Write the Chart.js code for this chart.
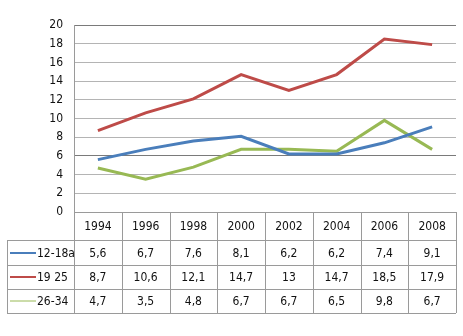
<!DOCTYPE html>
<html>
<head>
<meta charset="utf-8">
<script src="https://cdn.jsdelivr.net/npm/chart.js@4/dist/chart.umd.min.js"></script>
<style>
  html, body { margin: 0; padding: 0; background: #fff; }
  #wrap { width: 463px; height: 336px; position: relative; }
</style>
</head>
<body>
<div id="wrap"><canvas id="ageChart"></canvas></div>
<script>
// Survey years and the three age groups
const years = ['1994', '1996', '1998', '2000', '2002', '2004', '2006', '2008'];
const groupNames = ['12-18a', '19 25', '26-34'];
const group1218 = [5.6, 6.7, 7.6, 8.1, 6.2, 6.2, 7.4, 9.1];
const group1925 = [8.7, 10.6, 12.1, 14.7, 13, 14.7, 18.5, 17.9];
const group2634 = [4.7, 3.5, 4.8, 6.7, 6.7, 6.5, 9.8, 6.7];

const colors = ['#4a7ebb', '#be4b48', '#98b954'];
const legendWidths = [2, 2, 1];
const FONT = '"Liberation Sans Narrow", "DejaVu Sans Condensed", sans-serif';

const fmt = v => String(v).replace('.', ',');

// data table drawn under the plot, aligned to the category columns
const dataTable = {
    id: 'dataTable',
    afterDraw(chart) {
        const ctx = chart.ctx;
        const x = chart.scales.x;
        const area = chart.chartArea;
        const half = (x.getPixelForValue(1) - x.getPixelForValue(0)) / 2;
        const tableLeft = 7;
        const headTop = area.bottom;
        const rowEdges = [headTop, 240, 265, 289, 313];
        const rows = chart.data.datasets;

        ctx.save();
        ctx.strokeStyle = '#9a9a9a';
        ctx.lineWidth = 1;
        ctx.beginPath();
        // horizontal rules
        ctx.moveTo(area.left, rowEdges[0] + 0.5);
        ctx.lineTo(area.right, rowEdges[0] + 0.5);
        for (let r = 1; r < rowEdges.length; r++) {
            ctx.moveTo(tableLeft, rowEdges[r] + 0.5);
            ctx.lineTo(area.right, rowEdges[r] + 0.5);
        }
        // vertical rules
        ctx.moveTo(tableLeft + 0.5, rowEdges[1]);
        ctx.lineTo(tableLeft + 0.5, rowEdges[4]);
        years.forEach((y, i) => {
            const edge = Math.round(x.getPixelForValue(i) + half) + 0.5;
            ctx.moveTo(edge, rowEdges[0]);
            ctx.lineTo(edge, rowEdges[4]);
        });
        ctx.moveTo(Math.round(area.left) + 0.5, rowEdges[0]);
        ctx.lineTo(Math.round(area.left) + 0.5, rowEdges[4]);
        ctx.stroke();

        ctx.fillStyle = '#111';
        ctx.font = '12px ' + FONT;
        ctx.textAlign = 'center';
        ctx.textBaseline = 'middle';
        years.forEach((y, i) => {
            ctx.fillText(y, x.getPixelForValue(i), (rowEdges[0] + rowEdges[1]) / 2 + 1);
        });
        rows.forEach((ds, r) => {
            const cy = (rowEdges[r + 1] + rowEdges[r + 2]) / 2 + 1;
            ds.data.forEach((v, i) => {
                ctx.fillText(fmt(v), x.getPixelForValue(i), cy);
            });
            // series key: short line then the group name
            ctx.beginPath();
            ctx.strokeStyle = colors[r];
            ctx.lineWidth = legendWidths[r];
            ctx.moveTo(10, Math.round(cy) - 1);
            ctx.lineTo(36, Math.round(cy) - 1);
            ctx.stroke();
            ctx.textAlign = 'left';
            ctx.fillText(ds.label, 37, cy);
            ctx.textAlign = 'center';
        });
        ctx.restore();
    }
};

const ctx = document.getElementById('ageChart').getContext('2d');
new Chart(ctx, {
    type: 'line',
    data: {
        labels: years,
        datasets: [group1218, group1925, group2634].map((d, i) => ({
            label: groupNames[i],
            data: d,
            borderColor: colors[i],
            borderWidth: 3,
            pointRadius: 0,
            tension: 0,
            fill: false
        }))
    },
    options: {
        responsive: true,
        maintainAspectRatio: false,
        animation: false,
        layout: { padding: { top: 25, right: 7, bottom: 124, left: 0 } },
        plugins: {
            legend: { display: false },
            tooltip: { enabled: false }
        },
        scales: {
            x: {
                display: false,
                offset: true
            },
            y: {
                min: 0,
                max: 20,
                ticks: {
                    stepSize: 2,
                    padding: 11,
                    color: '#111',
                    font: { family: FONT, size: 12 }
                },
                grid: {
                    drawTicks: false,
                    color: c => (c.tick.value === 20 || c.tick.value === 6) ? '#7a7a7a' : '#b4b4b4'
                },
                border: { color: '#9a9a9a' },
                afterFit(scale) { scale.width = 74; }
            }
        }
    },
    plugins: [dataTable]
});
</script>
</body>
</html>
